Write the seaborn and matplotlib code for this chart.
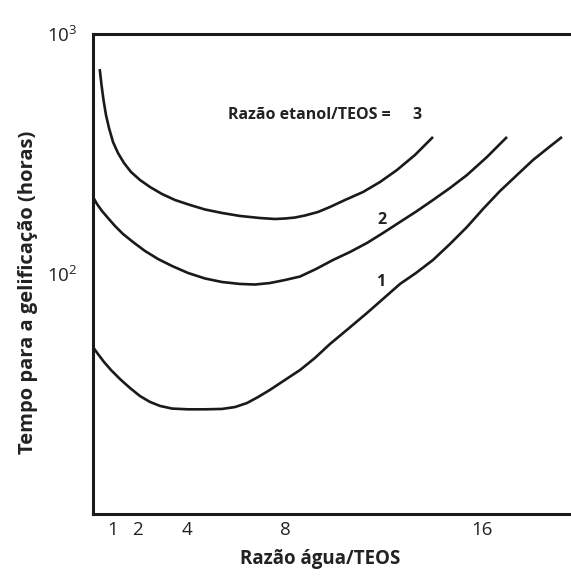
import numpy as np
import pandas as pd
import matplotlib
matplotlib.use("Agg")
import matplotlib.pyplot as plt
import seaborn as sns

# Data (x = razão água/TEOS, y = tempo em horas)
x3 = [0.46, 0.533, 0.614, 0.715, 0.837, 1.0, 1.203, 1.447, 1.732, 2.098, 2.504, 2.992, 3.52,
      4.13, 4.74, 5.431, 6.163, 6.976, 7.585, 7.992, 8.398, 8.805, 9.333, 9.821, 10.431,
      11.163, 11.854, 12.545, 13.276, 14.008]
y3 = [714, 613, 531, 459.7, 405.9, 354.8, 319.2, 290.1, 266.1, 246.4, 230.4, 215.4, 203.4,
      193.9, 185.7, 179.6, 174.5, 171.1, 169.5, 170.3, 171.9, 175.3, 181.3, 190.2, 203.4,
      219.6, 241.7, 271.3, 313.3, 372.4]

x2 = [0.187, 0.35, 0.553, 0.797, 1.081, 1.407, 1.813, 2.301, 2.829, 3.398, 4.049, 4.74,
      5.431, 6.163, 6.772, 7.382, 7.992, 8.602, 9.252, 9.943, 10.634, 11.325, 11.976,
      12.667, 13.358, 14.008, 14.699, 15.39, 16.203, 17.016]
y2 = [209.4, 195.7, 183.0, 171.1, 158.5, 146.8, 135.9, 124.7, 115.5, 108.0, 101.0, 95.8,
      92.6, 90.9, 90.4, 91.7, 94.4, 97.6, 104.9, 114.4, 123.5, 134.7, 148.2, 164.7, 183.0,
      203.4, 228.2, 258.5, 307.3, 372.4]

x1 = [0.187, 0.39, 0.634, 0.919, 1.285, 1.691, 2.098, 2.504, 2.911, 3.398, 4.049, 4.74,
      5.431, 5.959, 6.447, 6.894, 7.382, 7.992, 8.602, 9.211, 9.821, 10.553, 11.325, 12.016,
      12.667, 13.317, 14.008, 14.699, 15.39, 16.041, 16.732, 17.423, 18.073, 18.683, 19.252]
y1 = [49.6, 46.4, 43.0, 39.8, 36.5, 33.5, 31.0, 29.3, 28.2, 27.5, 27.3, 27.3,
      27.4, 27.9, 29.0, 30.7, 32.9, 36.2, 39.8, 44.7, 51.1, 59.0, 68.8, 79.4,
      90.9, 101.0, 114.4, 133.4, 157.0, 186.6, 221.7, 258.5, 298.5, 335.0, 372.4]

x_ticks = [1, 2, 4, 8, 16]
y_ticks = [1000, 500, 100, 50]
y_ticklabels = [r"$\mathregular{10^3}$", "", r"$\mathregular{10^2}$", ""]

sns.set_style("white")
plt.rcParams["font.family"] = ["Open Sans", "DejaVu Sans"]
plt.rcParams["mathtext.fontset"] = "custom"
plt.rcParams["mathtext.rm"] = "Open Sans"
plt.rcParams["mathtext.it"] = "Open Sans:italic"
plt.rcParams["mathtext.bf"] = "Open Sans:bold"

W, H = 571, 576
fig = plt.figure(figsize=(W / 100, H / 100), dpi=100)
left_px, right_px, top_px, bot_px = 93, 575, 34, 514
ax = fig.add_axes([left_px / W, 1 - bot_px / H, (right_px - left_px) / W, (bot_px - top_px) / H])

col = "#1a1a1a"
txt = "#222222"
df = pd.concat([
    pd.DataFrame({"x": x1, "y": y1, "s": "1"}),
    pd.DataFrame({"x": x2, "y": y2, "s": "2"}),
    pd.DataFrame({"x": x3, "y": y3, "s": "3"}),
])
for s in ["1", "2", "3"]:
    sns.lineplot(data=df[df.s == s], x="x", y="y", ax=ax, color=col, lw=1.9,
                 sort=False, estimator=None, legend=False,
                 solid_joinstyle="round", solid_capstyle="butt")

ax.set_yscale("log")
ax.set_ylim(10, 1000)
x_per_px = 1 / 24.6
ax.set_xlim((left_px - 88.4) * x_per_px, (right_px - 88.4) * x_per_px)

ax.set_xticks(x_ticks)
ax.set_xticklabels([str(t) for t in x_ticks])
ax.set_yticks(y_ticks)
ax.set_yticklabels(y_ticklabels)
ax.yaxis.set_minor_locator(matplotlib.ticker.NullLocator())
ax.tick_params(axis="x", direction="in", length=8, width=1.8, color=col, labelsize=13.5,
               pad=5, labelcolor=txt)
ax.tick_params(axis="y", direction="in", length=8, width=1.8, color=col, labelsize=13.5,
               pad=11, labelcolor=txt)

for side in ["left", "bottom", "top"]:
    ax.spines[side].set_visible(True)
    ax.spines[side].set_linewidth(2.2)
    ax.spines[side].set_color(col)
ax.spines["right"].set_visible(False)

ax.set_xlabel("Razão água/TEOS", fontsize=13.5, fontweight="bold", color=txt)
ax.xaxis.set_label_coords((320 - left_px) / (right_px - left_px), (bot_px - 549) / (bot_px - top_px))
ax.set_ylabel("Tempo para a gelificação (horas)", fontsize=14.5, fontweight="bold", color=txt)
ax.yaxis.set_label_coords((38 - left_px) / (right_px - left_px), (bot_px - 292) / (bot_px - top_px))

ax.text(5.67, 460, "Razão etanol/TEOS =", fontsize=11.5, fontweight="bold", color=txt,
        ha="left", va="center")
ax.text(13.36, 460, "3", fontsize=11.5, fontweight="bold", color=txt, ha="center", va="center")
ax.text(11.93, 168, "2", fontsize=11.5, fontweight="bold", color=txt, ha="center", va="center")
ax.text(11.89, 92.6, "1", fontsize=11.5, fontweight="bold", color=txt, ha="center", va="center")

fig.savefig("out.png", dpi=100, facecolor="white")
